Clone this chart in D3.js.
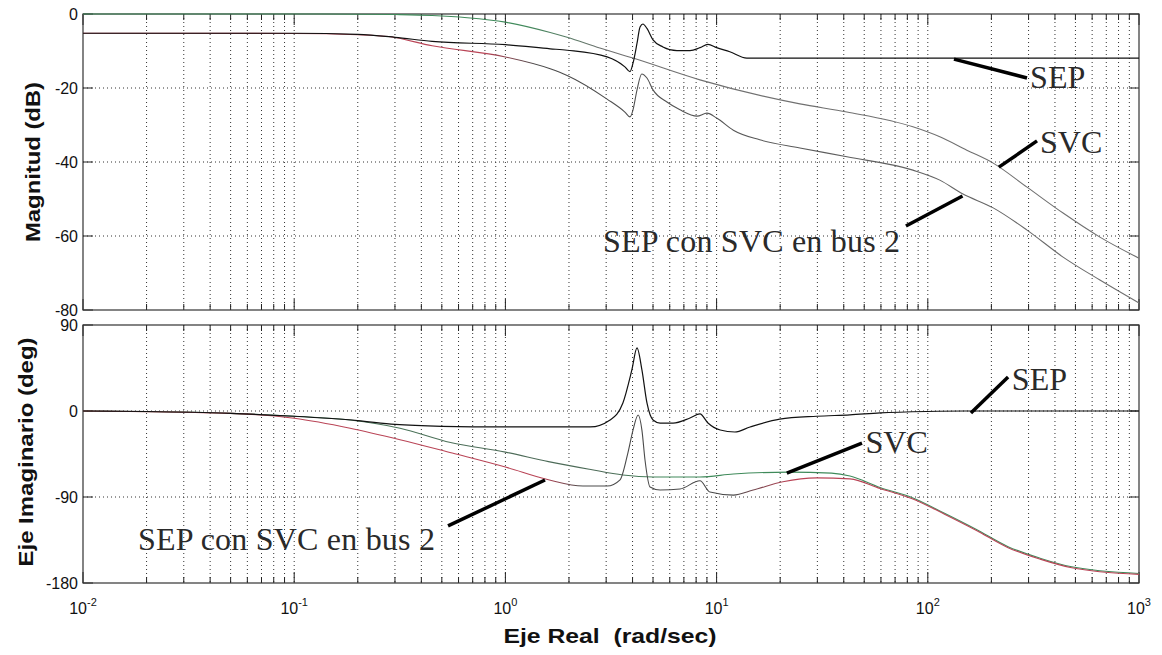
<!DOCTYPE html>
<html><head><meta charset="utf-8">
<script src="https://cdn.jsdelivr.net/npm/d3@7"></script>
<style>body{margin:0;background:#fff;} svg{display:block;}</style>
</head><body>
<svg id="c" width="1162" height="655"></svg>
<script>
// ---------------- DATA ----------------
const magTicks = [0, -20, -40, -60, -80];
const phaseTicks = [90, 0, -90, -180];
const freqMajor = [0.01, 0.1, 1, 10, 100, 1000];
const freqExp = ["-2", "-1", "0", "1", "2", "3"];

// Magnitude (dB) vs frequency (rad/s)
const sepMag = [[0.01,-5.2],[0.1,-5.2],[0.2,-5.5],[0.3,-6.3],[0.45,-7.4],[1,-8.3],[1.63,-9.4],[1.96,-9.8],[3.03,-11.6],[3.68,-14.3],[3.89,-15.6],[4.02,-13.3],[4.2,-7.9],[4.34,-3.5],[4.48,-2.7],[4.68,-3.9],[5.0,-7.0],[5.57,-8.9],[6.49,-9.9],[7.48,-9.9],[8.34,-9.1],[9.1,-8.2],[10,-9.1],[11.55,-10.2],[13.9,-11.9],[30,-11.9],[1000,-11.9]];
const svcMag = [[0.01,0],[0.1,0],[0.2,-0.05],[0.3,-0.15],[0.45,-0.4],[0.66,-1.0],[1,-2.2],[1.63,-5.0],[1.96,-6.3],[2.8,-9.2],[4.02,-11.9],[8.34,-17.8],[24.8,-24.3],[41.4,-26.5],[85,-30.5],[114,-33.2],[153,-36.8],[204,-40.3],[295,-46.8],[437,-53.8],[653,-60.3],[1000,-66]];
const bus2Mag = [[0.01,-5.2],[0.1,-5.25],[0.2,-5.6],[0.28,-6.1],[0.45,-8.6],[1,-11.6],[1.63,-14.8],[1.96,-16.6],[3.03,-23.0],[3.68,-26.5],[3.89,-27.8],[4.02,-25.9],[4.2,-20.5],[4.42,-16.2],[4.68,-17.3],[5.0,-20.5],[5.82,-23.8],[6.71,-25.9],[8.08,-27.6],[9.0,-26.8],[10,-28.1],[12.0,-31.4],[16,-34],[24.8,-36.2],[41.4,-38.6],[85,-42.2],[114,-44.9],[146,-48.6],[204,-52.4],[295,-58.4],[437,-65.7],[653,-71.9],[1000,-78.1]];

// Phase (deg) vs frequency (rad/s)
const sepPhase = [[0.01,0],[0.02,-0.5],[0.05,-2.5],[0.1,-5.5],[0.2,-10],[0.3,-14],[0.5,-16],[1,-16.7],[2.52,-16.7],[3.13,-9.4],[3.6,8.4],[3.97,43],[4.2,66],[4.43,43],[4.68,8.4],[5.0,-9.4],[5.4,-12.6],[6.22,-12.6],[7.48,-7.3],[8.34,-3.1],[9.1,-12.6],[10.4,-19.9],[12.2,-22],[14.4,-16.7],[19.9,-8.5],[29.8,-5.5],[42.8,-4],[59.4,-2],[99,-0.5],[150,0],[1000,0]];
const svcPhase = [[0.01,0],[0.03,-1],[0.05,-2.5],[0.1,-5.5],[0.184,-9.4],[0.317,-18],[0.55,-33],[1,-43],[1.6,-53],[2.5,-61],[3.6,-67],[5.0,-69],[8.34,-69],[12,-66],[22,-64],[35,-65],[42.8,-68],[59.4,-80],[85,-91],[120,-107],[170,-124],[240,-142],[340,-154],[480,-163],[1000,-170]];
const bus2Phase = [[0.01,0],[0.05,-2.5],[0.1,-7.6],[0.184,-18],[0.317,-30],[0.56,-44],[1.0,-58.6],[1.6,-72],[2.33,-78.5],[3.03,-78.5],[3.49,-72],[3.8,-44],[4.02,-20],[4.25,-4.2],[4.43,-20],[4.58,-51],[4.84,-79.5],[5.4,-82.7],[6.71,-81.6],[8.34,-73],[9.3,-84.8],[12.0,-88],[14.9,-82.7],[20.6,-74],[29.8,-70],[42.8,-71],[59.4,-81],[85,-92],[120,-108],[170,-125],[240,-143],[340,-155],[480,-164],[1000,-171]];

// Annotations (text + pointer, in data units)
const magNotes = [
  {text:"SEP", tx:305, ty:-20, p:[[133,-12.2],[295,-17.3]]},
  {text:"SVC", tx:340, ty:-37.6, p:[[217,-41.4],[329,-34.3]]},
  {text:"SEP con SVC en bus 2", tx:2.9, ty:-64.3, p:[[78.8,-57.3],[146,-49.2]]}
];
const phaseNotes = [
  {text:"SEP", tx:250, ty:22, p:[[160,-2],[240,35.6]]},
  {text:"SVC", tx:50.7, ty:-44, p:[[21.5,-64.9],[48.8,-33.5]]},
  {text:"SEP con SVC en bus 2", tx:0.0182, ty:-145.5, p:[[0.535,-120.3],[1.54,-72.2]]}
];

// ---------------- STYLE ----------------
const RED = "#b94456", GREEN = "#3f8a5a", DARK = "#4a4a4a", GRAY = "#707070";
const sansFont = "'Liberation Sans', Arial, Helvetica, sans-serif";
const serifFont = "'Liberation Serif', 'DejaVu Serif', serif";

// ---------------- LAYOUT ----------------
const svg = d3.select("#c");
const L = 83, R = 1139;
const magTop = 14, magBot = 310, phTop = 325, phBot = 583;

const x = d3.scaleLog().domain([0.01, 1000]).range([L, R]);
const yMag = d3.scaleLinear().domain([-80, 0]).range([magBot, magTop]);
const yPh = d3.scaleLinear().domain([-180, 90]).range([phBot, phTop]);

svg.append("rect").attr("width",1162).attr("height",655).attr("fill","#fff");
const defs = svg.append("defs");

function grad(id, stops){
  const g = defs.append("linearGradient").attr("id", id)
    .attr("gradientUnits","userSpaceOnUse")
    .attr("x1", x(0.01)).attr("x2", x(1000)).attr("y1", 0).attr("y2", 0);
  stops.forEach(([w,c]) => g.append("stop")
    .attr("offset", (x(w)-x(0.01))/(x(1000)-x(0.01))).attr("stop-color", c));
  return `url(#${id})`;
}
const gBus2Mag = grad("gb2m", [[0.01,RED],[0.8,RED],[1.4,DARK],[1000,GRAY]]);
const gSvcMag = grad("gsvm", [[0.01,GREEN],[1.2,GREEN],[3,GRAY],[1000,GRAY]]);
const gBus2Ph = grad("gb2p", [[0.01,RED],[1.5,RED],[2.3,DARK],[12,DARK],[22,RED],[1000,RED]]);
const gSvcPh = grad("gsvp", [[0.01,GREEN],[1,"#4d6b58"],[3,"#4d6b58"],[6,GREEN],[1000,GREEN]]);

const allTicks = x.ticks();

function panel(y, top, bot, yTicks, gridY){
  const g = svg.append("g");
  g.selectAll(".vg").data(allTicks.filter(t => t>0.01 && t<1000)).enter().append("line")
    .attr("x1", d=>x(d)).attr("x2", d=>x(d)).attr("y1", top).attr("y2", bot)
    .attr("stroke","#333").attr("stroke-width",1).attr("stroke-dasharray","1,3");
  g.selectAll(".hg").data(gridY).enter().append("line")
    .attr("x1", L).attr("x2", R).attr("y1", d=>y(d)).attr("y2", d=>y(d))
    .attr("stroke","#333").attr("stroke-width",1).attr("stroke-dasharray","1,3");
  allTicks.forEach(t => {
    const major = freqMajor.some(m => Math.abs(m - t)/m < 1e-6);
    const len = major ? 11 : 6;
    g.append("line").attr("x1",x(t)).attr("x2",x(t)).attr("y1",top).attr("y2",top+len).attr("stroke","#222");
    g.append("line").attr("x1",x(t)).attr("x2",x(t)).attr("y1",bot).attr("y2",bot-len).attr("stroke","#222");
  });
  yTicks.forEach(t => {
    g.append("line").attr("x1",L).attr("x2",L+10).attr("y1",y(t)).attr("y2",y(t)).attr("stroke","#222");
    g.append("line").attr("x1",R).attr("x2",R-10).attr("y1",y(t)).attr("y2",y(t)).attr("stroke","#222");
    g.append("text").attr("x", L-5).attr("y", y(t)).attr("dy","0.36em")
      .attr("text-anchor","end").attr("font-family",sansFont).attr("font-size",16)
      .attr("fill","#111").text(t);
  });
  g.append("rect").attr("x",L).attr("y",top).attr("width",R-L).attr("height",bot-top)
    .attr("fill","none").attr("stroke","#333").attr("stroke-width",1.2);
  return g;
}

panel(yMag, magTop, magBot, magTicks, [-20,-40,-60]);
panel(yPh, phTop, phBot, phaseTicks, [0,-90]);

function curve(data, y, stroke, w){
  const line = d3.line().x(d=>x(d[0])).y(d=>y(d[1])).curve(d3.curveMonotoneX);
  svg.append("path").datum(data).attr("d", line).attr("fill","none")
    .attr("stroke", stroke).attr("stroke-width", w).attr("stroke-linejoin","round");
}
curve(svcMag, yMag, gSvcMag, 1.1);
curve(bus2Mag, yMag, gBus2Mag, 1.1);
curve(sepMag, yMag, "#111", 1.2);
curve(svcPhase, yPh, gSvcPh, 1.1);
curve(bus2Phase, yPh, gBus2Ph, 1.1);
curve(sepPhase, yPh, "#111", 1.2);

function notes(list, y){
  list.forEach(n => {
    svg.append("line").attr("x1", x(n.p[0][0])).attr("y1", y(n.p[0][1]))
      .attr("x2", x(n.p[1][0])).attr("y2", y(n.p[1][1]))
      .attr("stroke","#000").attr("stroke-width",3.5);
    const t = svg.append("text").attr("x", x(n.tx)).attr("y", y(n.ty))
      .attr("font-family", serifFont).attr("font-size", 32).attr("fill","#2a2a2a")
      .text(n.text);
    if (n.text.length > 5) t.attr("textLength", 297).attr("lengthAdjust","spacing");
  });
}
notes(magNotes, yMag);
notes(phaseNotes, yPh);

freqMajor.forEach((f,i) => {
  const t = svg.append("text").attr("x", x(f)).attr("y", 614)
    .attr("text-anchor","middle").attr("font-family",sansFont).attr("font-size",16).attr("fill","#111");
  t.append("tspan").text("10");
  t.append("tspan").attr("dy",-8).attr("font-size",11).text(freqExp[i]);
});

svg.append("text").attr("transform","translate(40,162) rotate(-90)")
  .attr("text-anchor","middle").attr("font-family",sansFont).attr("font-weight","bold")
  .attr("font-size",21).attr("textLength",160).attr("lengthAdjust","spacingAndGlyphs")
  .attr("fill","#111").text("Magnitud (dB)");
svg.append("text").attr("transform","translate(33,452) rotate(-90)")
  .attr("text-anchor","middle").attr("font-family",sansFont).attr("font-weight","bold")
  .attr("font-size",21).attr("textLength",229).attr("lengthAdjust","spacingAndGlyphs")
  .attr("fill","#111").text("Eje Imaginario (deg)");
svg.append("text").attr("x", 610).attr("y", 643)
  .attr("text-anchor","middle").attr("font-family",sansFont).attr("font-weight","bold")
  .attr("font-size",21).attr("textLength",213).attr("lengthAdjust","spacingAndGlyphs")
  .attr("fill","#111").attr("xml:space","preserve").text("Eje Real  (rad/sec)");
</script>
</body></html>
